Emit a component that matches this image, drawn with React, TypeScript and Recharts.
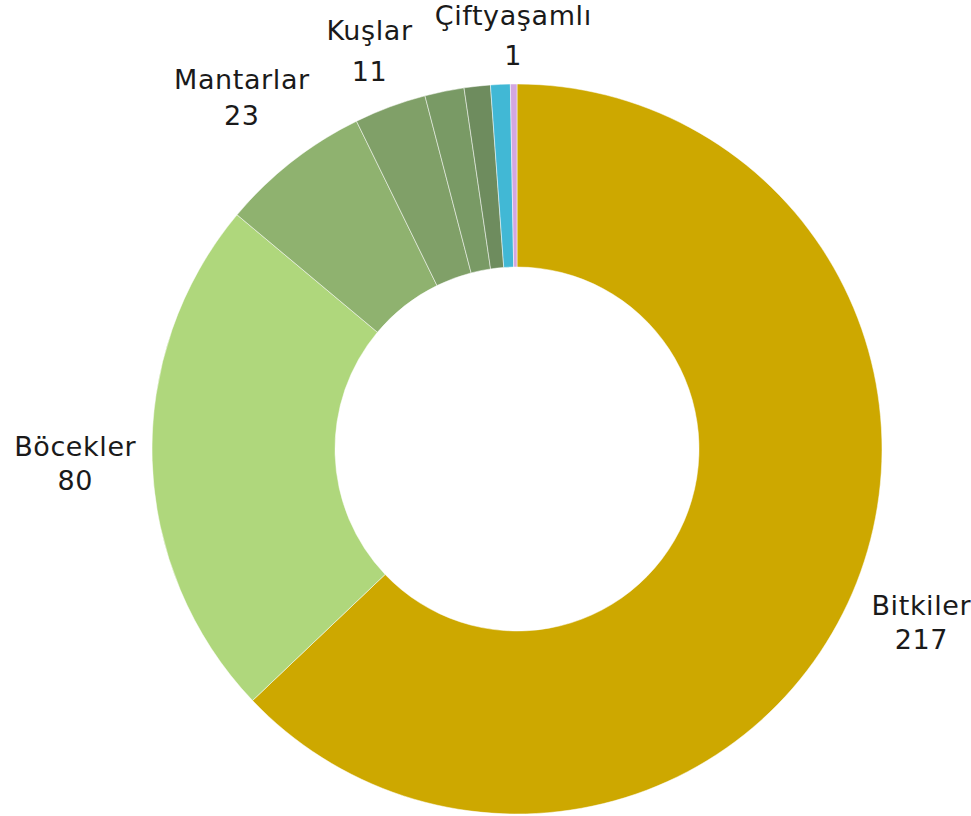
import React from 'react';
import { PieChart, Pie, Cell } from 'recharts';

const categories = ['Bitkiler', 'Böcekler', 'Mantarlar', 'Kuşlar', 'Memeliler', 'Sürüngenler', 'Balıklar', 'Çiftyaşamlı'];
const counts = [217, 80, 23, 11, 6, 4, 3, 1];
const colors = ['#CDA800', '#AFD77C', '#8FB26F', '#80A068', '#799A65', '#6E8C5E', '#41B8D5', '#D3A7E1'];
const labelledCategories = ['Bitkiler', 'Böcekler', 'Mantarlar', 'Kuşlar', 'Çiftyaşamlı'];

const data = categories.map((name, i) => ({ name, value: counts[i] }));

const labelOffset: Record<string, number> = {
  Bitkiler: 75,
  Böcekler: 77,
  Mantarlar: 81,
  Kuşlar: 59,
  Çiftyaşamlı: 49,
};

const lineGap: Record<string, number> = {
  Kuşlar: 41,
  Çiftyaşamlı: 40,
  Mantarlar: 36,
};

const RAD = Math.PI / 180;

const textStyle = {
  fill: '#1a1a1a',
  fontSize: 27,
  fontFamily: "'DejaVu Sans', sans-serif",
  fontWeight: 400,
  letterSpacing: 0.6,
};

const renderLabel = (props: any) => {
  const { cx, cy, midAngle, outerRadius, name, value } = props;
  if (!labelledCategories.includes(name)) return null;
  const r = outerRadius + (labelOffset[name] ?? 60);
  const x = cx + r * Math.cos(-midAngle * RAD);
  const y = cy + r * Math.sin(-midAngle * RAD);
  const gap = lineGap[name] ?? 34;
  return (
    <g>
      <text x={x} y={y - gap / 2} textAnchor="middle" dominantBaseline="central" style={textStyle}>
        {name}
      </text>
      <text x={x} y={y + gap / 2} textAnchor="middle" dominantBaseline="central" style={textStyle}>
        {value}
      </text>
    </g>
  );
};

export default function App() {
  return (
    <div style={{ position: 'absolute', left: 0, top: 0, width: 971, height: 816, background: '#fff' }}>
      <PieChart width={971} height={816} margin={{ top: 0, right: 0, bottom: 0, left: 0 }}>
        <Pie
          data={data}
          dataKey="value"
          nameKey="name"
          cx={517}
          cy={449}
          innerRadius={182}
          outerRadius={365}
          startAngle={90}
          endAngle={-270}
          stroke="#ffffff"
          strokeWidth={0.5}
          label={renderLabel}
          labelLine={false}
          isAnimationActive={false}
        >
          {data.map((d, i) => (
            <Cell key={d.name} fill={colors[i]} />
          ))}
        </Pie>
      </PieChart>
    </div>
  );
}
